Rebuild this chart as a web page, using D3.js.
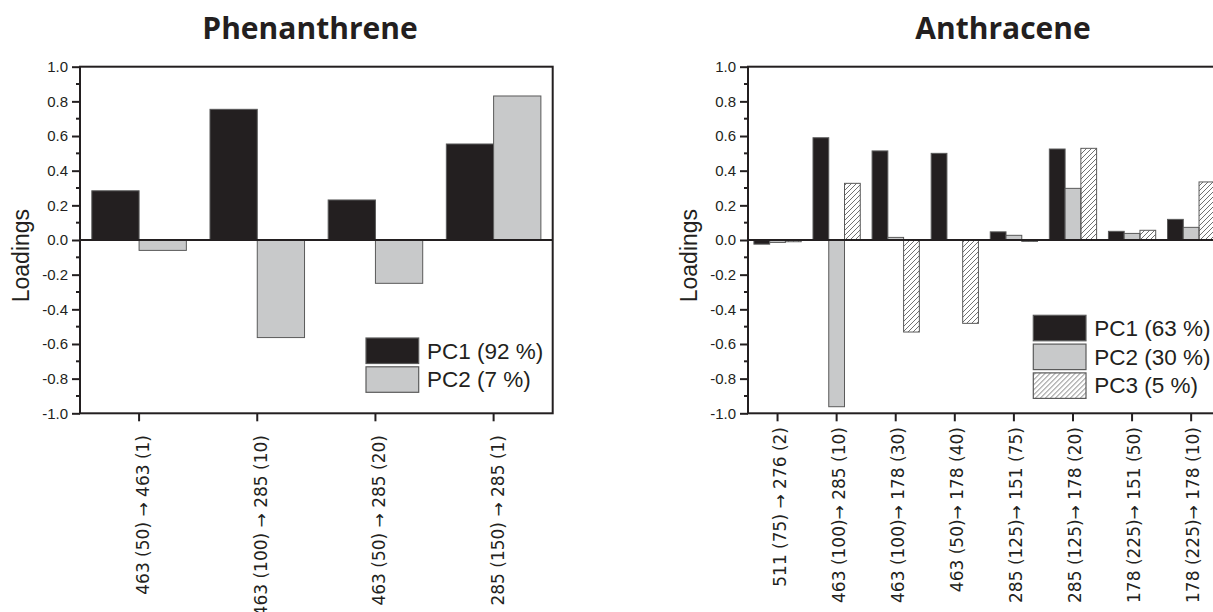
<!DOCTYPE html>
<html>
<head>
<meta charset="utf-8">
<script src="https://cdn.jsdelivr.net/npm/d3@7"></script>
<style>
  body { margin: 0; background: #fff; }
  svg { display: block; overflow: hidden; }
</style>
</head>
<body>
<div id="container"></div>
<script>
// values
var phenCategories = ["463 (50) \u2192 463 (1)", "463 (100) \u2192 285 (10)", "463 (50) \u2192 285 (20)", "285 (150) \u2192 285 (1)"];
var phenPC1 = [0.284, 0.754, 0.231, 0.554];
var phenPC2 = [-0.06, -0.563, -0.25, 0.831];
var phenLegend = ["PC1 (92 %)", "PC2 (7 %)"];

var anthCategories = ["511 (75) \u2192 276 (2)", "463 (100)\u2192 285 (10)", "463 (100)\u2192 178 (30)", "463 (50)\u2192 178 (40)",
                      "285 (125)\u2192 151 (75)", "285 (125)\u2192 178 (20)", "178 (225)\u2192 151 (50)", "178 (225)\u2192 178 (10)"];
var anthPC1 = [-0.024, 0.59, 0.514, 0.5, 0.047, 0.525, 0.05, 0.119];
var anthPC2 = [-0.014, -0.962, 0.015, 0.0, 0.027, 0.298, 0.038, 0.073];
var anthPC3 = [-0.01, 0.327, -0.531, -0.481, -0.008, 0.529, 0.056, 0.335];
var anthLegend = ["PC1 (63 %)", "PC2 (30 %)", "PC3 (5 %)"];

var yMajorTicks = [-1.0, -0.8, -0.6, -0.4, -0.2, 0.0, 0.2, 0.4, 0.6, 0.8, 1.0];
var yMinorTicks = [-0.9, -0.7, -0.5, -0.3, -0.1, 0.1, 0.3, 0.5, 0.7, 0.9];
var yTitle = "Loadings";

var w = 1213, h = 612;
var svg = d3.select("div#container").append("svg")
    .attr("width", w).attr("height", h)
    .style("background-color", "white");

var defs = svg.append("defs");
defs.append("pattern")
    .attr("id", "hatch")
    .attr("patternUnits", "userSpaceOnUse")
    .attr("width", 5).attr("height", 5)
  .append("path")
    .attr("d", "M-1,1 l2,-2 M0,5 l5,-5 M4,6 l2,-2")
    .attr("stroke", "#333")
    .attr("stroke-width", 0.7);

var fills = ["#231f20", "#c8c9ca", "url(#hatch)"];
var plotW = 472.7;
var y = d3.scaleLinear().domain([-1, 1]).range([413.3, 66.7]);

function drawChart(opt) {
  var g = svg.append("g");
  var x0 = d3.scaleBand().domain(opt.categories).range([opt.left, opt.left + plotW]).padding(0);
  var x1 = d3.scaleBand().domain(d3.range(opt.series.length))
      .range([0, x0.bandwidth() * 0.8]);
  var off = x0.bandwidth() * 0.1;

  // title
  g.append("text")
      .attr("x", opt.titleX).attr("y", 39)
      .attr("text-anchor", "middle")
      .style("font-family", "'Open Sans', sans-serif")
      .style("font-weight", "bold")
      .style("font-size", "30px")
      .attr("fill", "#231f20")
      .text(opt.title);

  // bars
  opt.series.forEach(function(vals, si) {
    g.append("g").selectAll("rect")
      .data(vals)
      .enter().append("rect")
        .attr("x", function(d, i) { return x0(opt.categories[i]) + off + x1(si); })
        .attr("width", x1.bandwidth())
        .attr("y", function(d) { return y(Math.max(0, d)); })
        .attr("height", function(d) { return Math.abs(y(d) - y(0)); })
        .attr("fill", fills[si])
        .attr("stroke", "#5a5a5a")
        .attr("stroke-width", 1);
  });

  // zero line
  g.append("line")
      .attr("x1", opt.left).attr("x2", opt.left + plotW)
      .attr("y1", y(0)).attr("y2", y(0))
      .attr("stroke", "#231f20").attr("stroke-width", 2);

  // frame
  g.append("rect")
      .attr("x", opt.left).attr("y", y(1))
      .attr("width", plotW).attr("height", y(-1) - y(1))
      .attr("fill", "none")
      .attr("stroke", "#231f20").attr("stroke-width", 2);

  // y axis
  var ya = g.append("g").attr("transform", "translate(" + opt.left + ",0)")
      .call(d3.axisLeft(y).tickValues(yMajorTicks).tickSize(8).tickPadding(4)
            .tickFormat(d3.format(".1f")));
  ya.select(".domain").remove();
  ya.selectAll(".tick line").attr("stroke", "#231f20").attr("stroke-width", 2);
  ya.selectAll(".tick text")
      .text(function(d) { return d3.format(".1f")(d).replace("\u2212", "-"); })
      .style("font-family", "'Liberation Sans', Arial, sans-serif")
      .style("font-size", "15px")
      .attr("fill", "#231f20");
  g.append("g").selectAll("line")
    .data(yMinorTicks)
    .enter().append("line")
      .attr("x1", opt.left - 4).attr("x2", opt.left)
      .attr("y1", function(d) { return y(d); })
      .attr("y2", function(d) { return y(d); })
      .attr("stroke", "#231f20").attr("stroke-width", 2);

  g.append("text")
      .attr("transform", "translate(" + (opt.left - 51) + "," + y(-0.09) + ") rotate(-90)")
      .attr("text-anchor", "middle")
      .style("font-family", "'Liberation Sans', Arial, sans-serif")
      .style("font-size", "23px")
      .attr("fill", "#231f20")
      .text(yTitle);

  // x axis
  var xa = g.append("g").attr("transform", "translate(0," + y(-1) + ")")
      .call(d3.axisBottom(x0).tickSize(8).tickFormat(""));
  xa.select(".domain").remove();
  xa.selectAll(".tick line").attr("stroke", "#231f20").attr("stroke-width", 2);
  g.append("g").selectAll("text")
    .data(opt.categories)
    .enter().append("text")
      .attr("transform", function(d) {
        return "translate(" + (x0(d) + x0.bandwidth() / 2 + opt.labelShift) + "," + opt.labelTop + ") rotate(-90)";
      })
      .attr("text-anchor", "end")
      .style("font-family", "'DejaVu Sans', sans-serif")
      .style("font-size", "17px")
      .attr("fill", "#231f20")
      .text(function(d) { return d; });

  // legend
  var lg = g.append("g").attr("transform", "translate(" + opt.legendX + "," + opt.legendY + ")");
  opt.legend.forEach(function(lbl, i) {
    lg.append("rect")
        .attr("x", 0).attr("y", i * 28.8)
        .attr("width", 52.7).attr("height", 25.5)
        .attr("fill", fills[i])
        .attr("stroke", "#5a5a5a").attr("stroke-width", 1.2);
    lg.append("text")
        .attr("x", 61).attr("y", i * 28.8 + 20.5)
        .style("font-family", "'Liberation Sans', Arial, sans-serif")
        .style("font-size", "22.5px")
        .attr("fill", "#231f20")
        .text(lbl);
  });
}

drawChart({
  title: "Phenanthrene", titleX: 310, left: 80,
  categories: phenCategories, series: [phenPC1, phenPC2],
  legend: phenLegend, legendX: 366, legendY: 338,
  labelShift: 10, labelTop: 435
});

drawChart({
  title: "Anthracene", titleX: 1003, left: 748,
  categories: anthCategories, series: [anthPC1, anthPC2, anthPC3],
  legend: anthLegend, legendX: 1033.3, legendY: 315.3,
  labelShift: 8, labelTop: 427
});
</script>
</body>
</html>
